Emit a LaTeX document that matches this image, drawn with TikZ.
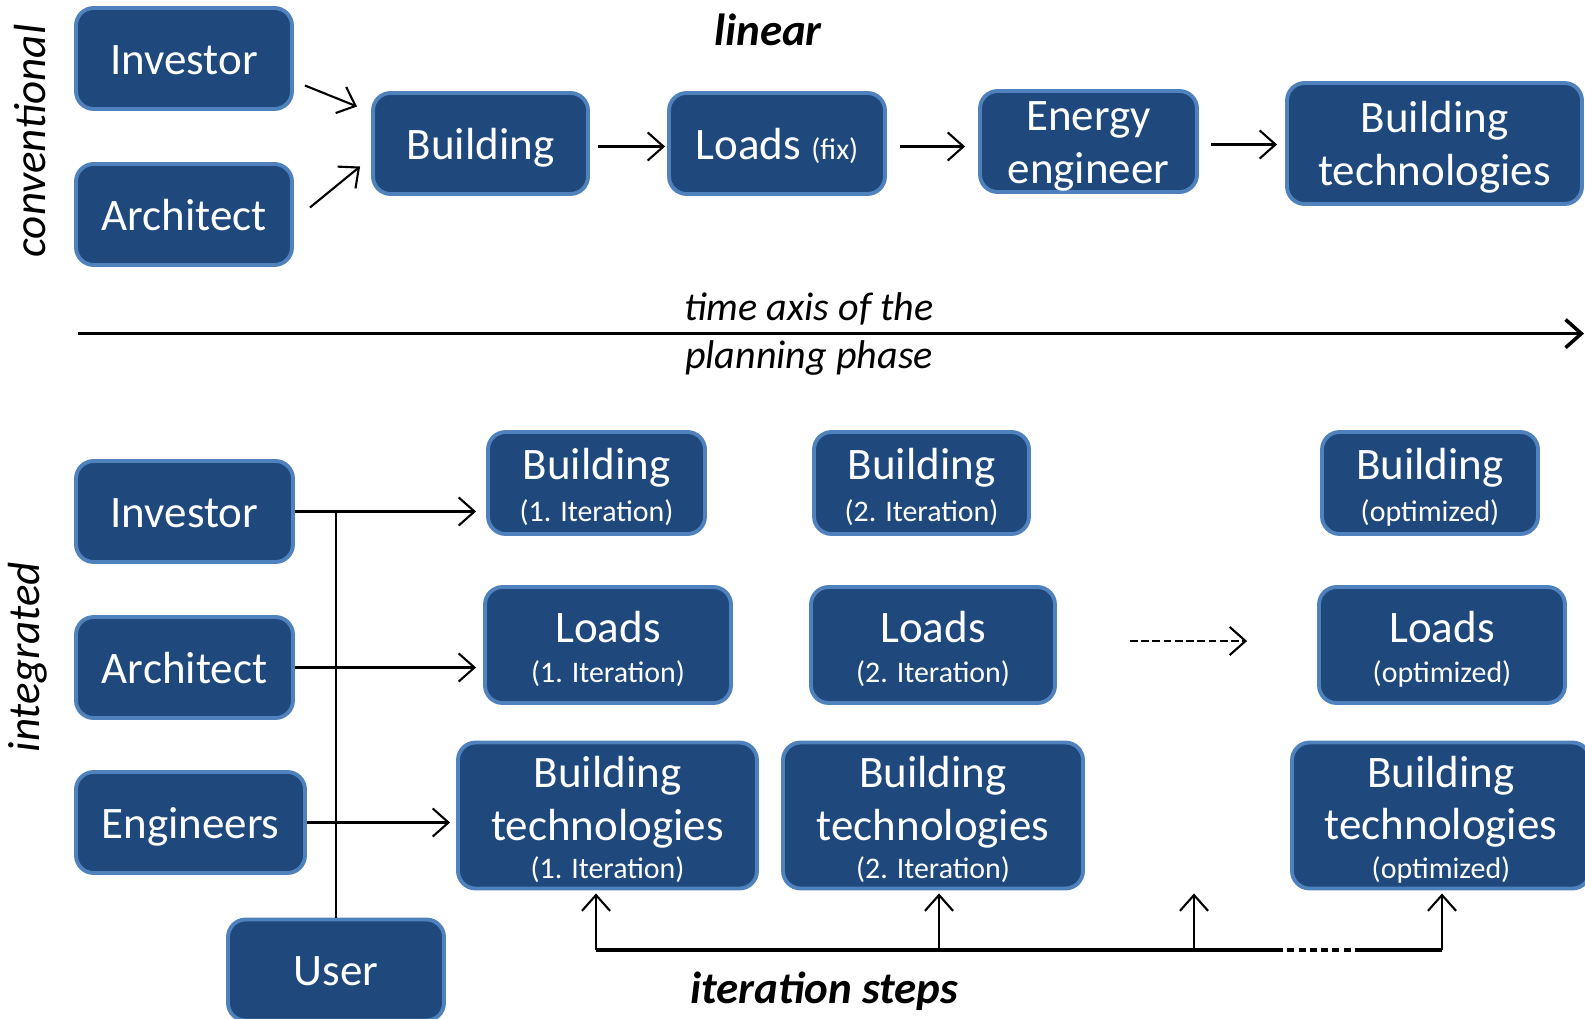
\documentclass[tikz,border=0pt]{standalone}
\usepackage{fontspec}
\setmainfont{Carlito}
\usetikzlibrary{arrows.meta,calc}
\definecolor{boxfill}{RGB}{31,73,125}
\definecolor{boxline}{RGB}{79,129,189}
\newcommand{\mainsz}{\fontsize{12.8}{15}\selectfont}
\newcommand{\smallsz}{\fontsize{8.5}{10}\selectfont}
\newcommand{\axissz}{\fontsize{11.4}{13}\selectfont}
\newcommand{\fl}{\rule{0pt}{11.2pt}}
\begin{document}
\begin{tikzpicture}[x=0.01cm,y=-0.01cm,
  box/.style={draw=boxline, fill=boxfill, line width=1.1pt, rounded corners=5pt,
    text=white, align=center, inner sep=0pt, font=\mainsz},
  one/.style={box, execute at begin node={\rule[-2.5pt]{0pt}{14pt}}},
  wh/.style 2 args={minimum width=#1*0.01cm, minimum height=#2*0.01cm},
  arr/.style={line width=0.6pt, -{Straight Barb[length=4.5pt,width=8pt]}},
  plain/.style={line width=0.6pt},
  lbl/.style={inner sep=0pt}]
\useasboundingbox (0,0) rectangle (1585,1018);

% ---------- conventional ----------
\node[lbl, font=\mainsz\itshape, rotate=90] (conv) at (30,141) {conventional};
\node[lbl, font=\mainsz\bfseries\itshape] (lin) at (768,30) {linear};

\node[one, wh={216}{101}] (inv1) at (184,58.5) {Investor};
\node[one, wh={216}{101}] (arc1) at (184,214.5) {Architect};
\node[one, wh={215}{101}] (bld1) at (480.5,143.5) {Building};
\node[one, wh={216}{101}] (lds1) at (777,143.5) {Loads {\smallsz (fix)}};
\node[box, wh={217}{101}] (eng1) at (1088.5,141.5) {\fl Energy\\engineer};
\node[box, wh={295}{121}] (bt1) at (1434.5,143.5) {\fl Building\\technologies};

\draw[arr] ($(inv1.east)+(11,27)$) -- ($(bld1.west)+(-14,-37)$);
\draw[arr] ($(arc1.east)+(16,-7)$) -- ($(bld1.west)+(-11,23)$);
\draw[arr] ($(bld1.east)+(8,3)$) -- ($(lds1.west)+(-2,3)$);
\draw[arr] ($(lds1.east)+(13,3)$) -- ($(eng1.west)+(-13,5)$);
\draw[arr] ($(eng1.east)+(12,3)$) -- ($(bt1.west)+(-8,1)$);

% ---------- time axis ----------
\coordinate (axs) at (78,333.6);
\coordinate (axe) at (1584,333.6);
\draw[arr, line width=1pt] (axs) -- (axe);
\node[lbl, font=\axissz\itshape] (ax1) at (809,309) {time axis of the};
\node[lbl, font=\axissz\itshape] (ax2) at (809,358) {planning phase};

% ---------- integrated ----------
\node[lbl, font=\mainsz\itshape, rotate=90] (integ) at (28,657) {integrated};

\node[one, wh={217}{101}] (inv2) at (184.5,511.5) {Investor};
\node[one, wh={217}{101}] (arc2) at (184.5,667.5) {Architect};
\node[one, wh={229}{101}] (engs) at (190.5,822.5) {Engineers};
\node[one, wh={216}{101}] (user) at (336,970) {User};

\node[box, wh={217}{102}] (b1) at (596.5,483) {\fl Building\\[-3pt]{\smallsz (1. Iteration)}};
\node[box, wh={246}{116}] (l1) at (608,645) {\fl Loads\\[-3.7pt]{\smallsz (1. Iteration)}};
\node[box, wh={299}{146}] (t1) at (607.5,815.5) {\fl Building\\technologies\\[-4pt]{\smallsz (1. Iteration)}};

\node[box, wh={215}{102}] (b2) at (921.5,483) {\fl Building\\[-3pt]{\smallsz (2. Iteration)}};
\node[box, wh={244}{116}] (l2) at (933,645) {\fl Loads\\[-3.7pt]{\smallsz (2. Iteration)}};
\node[box, wh={300}{146}] (t2) at (933,815.5) {\fl Building\\technologies\\[-4pt]{\smallsz (2. Iteration)}};

\node[box, wh={216}{102}] (bo) at (1430,483) {\fl Building\\[-3pt]{\smallsz (optimized)}};
\node[box, wh={246}{116}] (lo) at (1442,645) {\fl Loads\\[-3.7pt]{\smallsz (optimized)}};
\node[box, wh={298}{146}] (to) at (1441,815.5) {\fl Building\\technologies\\[-4pt]{\smallsz (optimized)}};

% stakeholder inputs
\draw[plain] (user.north) -- (user.north |- inv2.east);
\draw[arr, shorten >=10*0.01cm] (inv2.east) -- (inv2.east -| b1.west);
\draw[arr, shorten >=7*0.01cm] (arc2.east) -- (arc2.east -| l1.west);
\draw[arr, shorten >=6*0.01cm] (engs.east) -- (engs.east -| t1.west);

% dashed continuation
\draw[arr, dash pattern=on 2.2pt off 1pt] ($(l2.east)+(73,-4)$) -- ($(lo.west)+(-70,-4)$);

% iteration steps
\coordinate (s1) at (596,950);
\coordinate (s2) at (939,950);
\coordinate (s3) at (1194,950);
\coordinate (s4) at (1442,950);
\coordinate (d1) at (1276,950);
\coordinate (d2) at (1357,950);
\draw[line width=1pt] (s1) -- (d1);
\draw[line width=1pt, dash pattern=on 2pt off 1.2pt] (d1) -- (d2);
\draw[line width=1pt] (d2) -- (s4);
\draw[arr] (s1) -- ($(s1 |- t1.south)+(0,3)$);
\draw[arr] (s2) -- ($(s2 |- t2.south)+(0,3)$);
\draw[arr] (s3) -- ($(s3 |- t2.south)+(0,3)$);
\draw[arr] (s4) -- ($(s4 |- to.south)+(0,3)$);
\node[lbl, font=\mainsz\bfseries\itshape] (its) at (824,991) {iteration steps};
\end{tikzpicture}
\end{document}
